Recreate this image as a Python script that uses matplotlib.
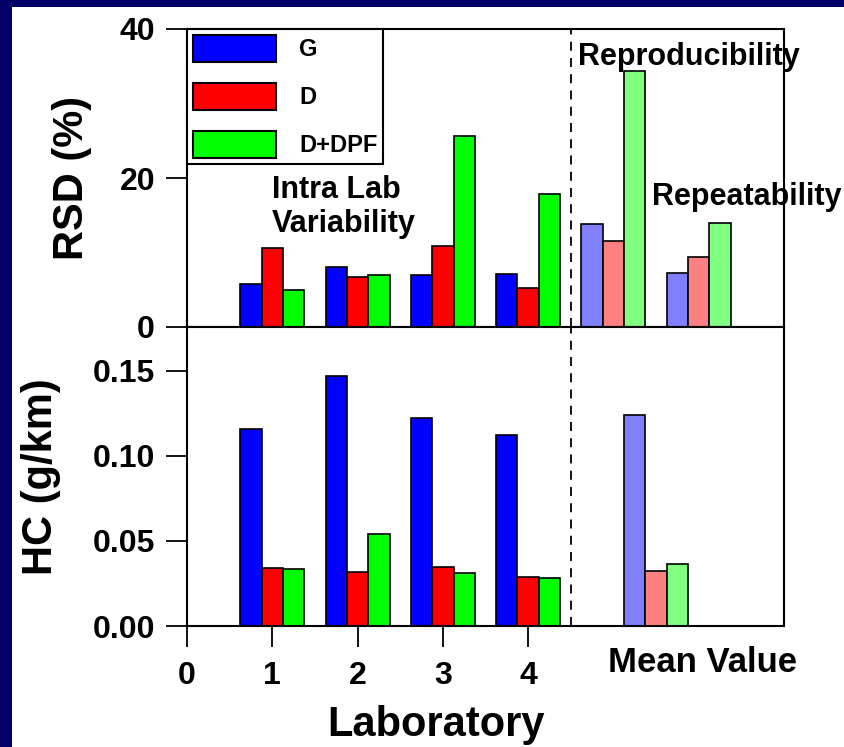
import matplotlib
matplotlib.use('Agg')
from matplotlib import pyplot as plt
from matplotlib.patches import Rectangle
import matplotlib.transforms as mtransforms

plt.rcParams['font.family'] = ['Liberation Sans', 'DejaVu Sans']
plt.rcParams['font.weight'] = 'bold'
plt.rcParams['axes.labelweight'] = 'bold'

# RSD (%) per laboratory
labs = [1, 2, 3, 4]
rsd_g = [5.8, 8.05, 7.0, 7.1]
rsd_d = [10.6, 6.7, 10.9, 5.3]
rsd_dpf = [4.9, 7.0, 25.6, 17.85]
# reproducibility / repeatability groups (G, D, D+DPF)
group_pos = [5, 6]
reproducibility = [13.8, 11.5, 34.3]
repeatability = [7.2, 9.35, 14.0]

# HC emission (g/km) per laboratory
hc_g = [0.116, 0.147, 0.1224, 0.1122]
hc_d = [0.0343, 0.0315, 0.0349, 0.0288]
hc_dpf = [0.0335, 0.0539, 0.0311, 0.028]
mean_pos = 5.5
hc_mean = [0.1242, 0.0323, 0.0364]

names = ['G', 'D', 'D+DPF']
dark = ['#0000ff', '#ff0000', '#00ff00']
light = ['#8080ff', '#ff8080', '#80ff80']
w = 0.25
offs = [-w, 0, w]

fig = plt.figure(figsize=(8.44, 7.47), dpi=100, facecolor='#000066')
fig.patches.append(Rectangle((12 / 844, 0), 1, 1 - 7 / 747, transform=fig.transFigure,
                             facecolor='white', edgecolor='none', zorder=-1))

left, width = 187 / 844, (784 - 187) / 844
ax1 = fig.add_axes([left, 1 - 327 / 747, width, (327 - 29) / 747])
ax2 = fig.add_axes([left, 1 - 626 / 747, width, (626 - 327) / 747])

bar_kw = dict(width=w, edgecolor='black', linewidth=1.2)

# upper panel
for k, vals in enumerate([rsd_g, rsd_d, rsd_dpf]):
    ax1.bar([x + offs[k] for x in labs], vals, color=dark[k], label=names[k], **bar_kw)
for k in range(3):
    ax1.bar([group_pos[0] + offs[k], group_pos[1] + offs[k]],
            [reproducibility[k], repeatability[k]], color=light[k], **bar_kw)

ax1.set_xlim(0, 7)
ax1.set_ylim(0, 40)
ax1.set_yticks([0, 20, 40])
ax1.tick_params(axis='x', length=0, labelbottom=False)
ax1.set_ylabel('RSD (%)', fontsize=30, labelpad=20)

leg = ax1.legend(loc='upper left', bbox_to_anchor=(0, 1), borderaxespad=0, fontsize=17,
                 fancybox=False, edgecolor='black', framealpha=1, handlelength=3.5,
                 handleheight=1.4, handletextpad=1.0, labelspacing=0.88, borderpad=0.25)
leg.get_frame().set_linewidth(1.5)
for h in leg.legend_handles:
    h.set_linewidth(1.5)

ax1.text(1.0, 12.8, 'Intra Lab\nVariability', fontsize=22, ha='left', va='baseline',
         linespacing=1.15)
ax1.text(4.585, 35.2, 'Reproducibility', fontsize=22, ha='left', va='baseline')
ax1.text(5.45, 16.4, 'Repeatability', fontsize=22, ha='left', va='baseline')

# lower panel
for k, vals in enumerate([hc_g, hc_d, hc_dpf]):
    ax2.bar([x + offs[k] for x in labs], vals, color=dark[k], **bar_kw)
ax2.bar([mean_pos + o for o in offs], hc_mean, color=light, **bar_kw)

ax2.set_xlim(0, 7)
ax2.set_ylim(0, 0.1757)
ax2.set_yticks([0, 0.05, 0.10, 0.15])
ax2.set_yticklabels(['0.00', '0.05', '0.10', '0.15'])
ax2.set_xticks([0, 1, 2, 3, 4])
ax2.set_ylabel('HC (g/km)', fontsize=30, labelpad=23)
ax2.set_xlabel('Laboratory', fontsize=30)
ax2.xaxis.set_label_coords((436 - 187) / (784 - 187), -0.265)

trans = mtransforms.blended_transform_factory(ax2.transData, ax2.transAxes)
ax2.text(6.05, -0.153, 'Mean Value', fontsize=25, ha='center', va='baseline', transform=trans)

for ax in (ax1, ax2):
    ax.axvline(4.5, color='black', linewidth=1.3, dashes=(5, 4))
    for s in ax.spines.values():
        s.set_linewidth(1.5)
    ax.tick_params(direction='out', length=15, width=1.3, labelsize=23, pad=8)
    ax.tick_params(axis='y', right=False)
ax2.tick_params(axis='x', pad=10)

fig.savefig('out.png', dpi=100, facecolor=fig.get_facecolor())
